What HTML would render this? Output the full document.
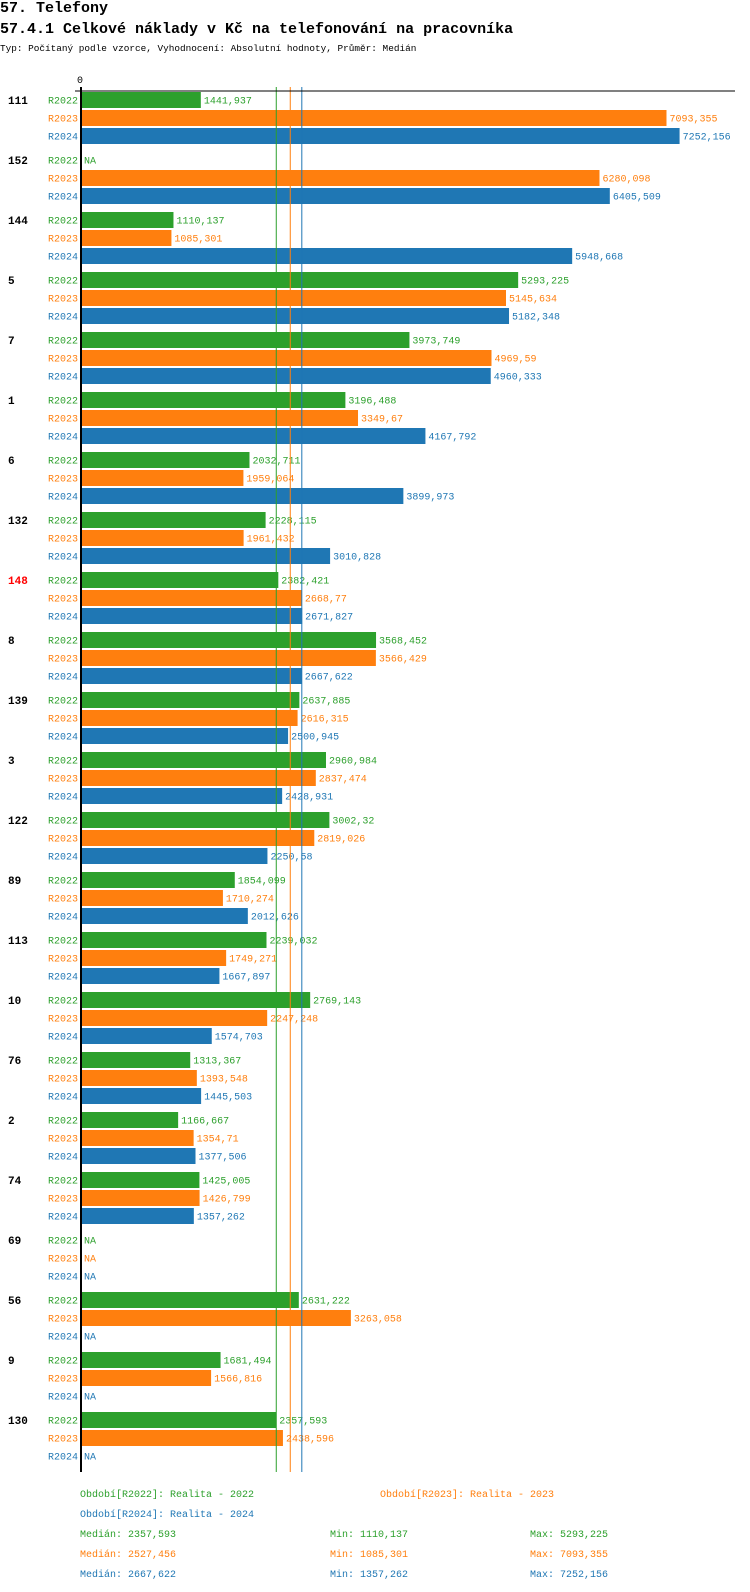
<!DOCTYPE html>
<html><head><meta charset="utf-8"><style>
body{margin:0;background:#fff;font-family:"Liberation Mono",monospace;}
.t{position:absolute;white-space:nowrap;}
</style></head><body>
<div style="position:relative;width:750px;height:1592px;overflow:hidden">
<div class="t" style="left:0;top:0;font-size:15px;font-weight:bold">57. Telefony</div>
<div class="t" style="left:0;top:21px;font-size:15px;font-weight:bold">57.4.1 Celkové náklady v Kč na telefonování na pracovníka</div>
<div class="t" style="left:0;top:43px;font-size:9.4px">Typ: Počítaný podle vzorce, Vyhodnocení: Absolutní hodnoty, Průměr: Medián</div>
<svg id="ch" width="750" height="1592" style="position:absolute;left:0;top:0"></svg>
</div>
<script>
const groups=["111","152","144","5","7","1","6","132","148","8","139","3","122","89","113","10","76","2","74","69","56","9","130"];
const r2022=[1441.937,null,1110.137,5293.225,3973.749,3196.488,2032.711,2228.115,2382.421,3568.452,2637.885,2960.984,3002.32,1854.099,2239.032,2769.143,1313.367,1166.667,1425.005,null,2631.222,1681.494,2357.593];
const r2023=[7093.355,6280.098,1085.301,5145.634,4969.59,3349.67,1959.064,1961.432,2668.77,3566.429,2616.315,2837.474,2819.026,1710.274,1749.271,2247.248,1393.548,1354.71,1426.799,null,3263.058,1566.816,2438.596];
const r2024=[7252.156,6405.509,5948.668,5182.348,4960.333,4167.792,3899.973,3010.828,2671.827,2667.622,2500.945,2428.931,2250.58,2012.626,1667.897,1574.703,1445.503,1377.506,1357.262,null,null,null,null];
const seriesNames=["R2022","R2023","R2024"];
const medians=[2357.593,2527.456,2667.622];
const mins=["1110,137","1085,301","1357,262"];
const maxs=["5293,225","7093,355","7252,156"];
const colors=["#2ca02c","#ff7f0e","#1f77b4"];
const series=[r2022,r2023,r2024];
const NS="http://www.w3.org/2000/svg";
const svg=document.getElementById('ch');
const x0=82,k=0.0824;
const xs=v=>x0+v*k;
const gy=g=>92+g*60;
const fmt=v=>String(v).replace('.',',');
function mk(tag,at){const e=document.createElementNS(NS,tag);for(const a in at)e.setAttribute(a,at[a]);svg.appendChild(e);return e;}
function txt(x,y,s,fill,size,anchor,weight){const e=mk('text',{x:x,y:y,fill:fill,'font-size':size,'font-family':'Liberation Mono, monospace','text-anchor':anchor||'start','font-weight':weight||'normal'});e.textContent=s;return e;}
let e=txt(80,83,"0","#000",10,"middle");


groups.forEach((g,i)=>{
  const t=txt(8,gy(i)+12,g,g==="148"?"#ff0000":"#000",11,"start","bold");
  
  
  series.forEach((s,j)=>{
    const y=gy(i)+j*18;
    const lab=txt(78,y+11.5,seriesNames[j],colors[j],10,"end");
    
    
    const v=s[i];
    if(v==null){
      const na=txt(84,y+11.5,"NA",colors[j],10);
      
      
    } else {
      const r=mk('rect',{x:x0,y:y,width:xs(v)-x0,height:16,fill:colors[j]});
      
      
      const vl=txt(xs(v)+3,y+11.5,fmt(v),colors[j],10);
      
      
    }
  });
});
medians.forEach((m,j)=>{
  const l=mk('line',{x1:xs(m),x2:xs(m),y1:87,y2:1472,stroke:colors[j],'stroke-width':1});
  
  
});
let ax=mk('line',{x1:75,x2:735,y1:91,y2:91,stroke:'#000','stroke-width':1});


ax=mk('line',{x1:81,x2:81,y1:87,y2:1472,stroke:'#000','stroke-width':2});


const leg=[[80,1497,"Období[R2022]: Realita - 2022",0],[380,1497,"Období[R2023]: Realita - 2023",1],[80,1517,"Období[R2024]: Realita - 2024",2]];
leg.forEach(a=>{const t=txt(a[0],a[1],a[2],colors[a[3]],10);

});
medians.forEach((m,j)=>{
  const y=1537+j*20;
  let t=txt(80,y,"Medián: "+fmt(m),colors[j],10);
  
  
  t=txt(330,y,"Min: "+mins[j],colors[j],10);
  
  
  t=txt(530,y,"Max: "+maxs[j],colors[j],10);
  
  
});
</script>
</body></html>
